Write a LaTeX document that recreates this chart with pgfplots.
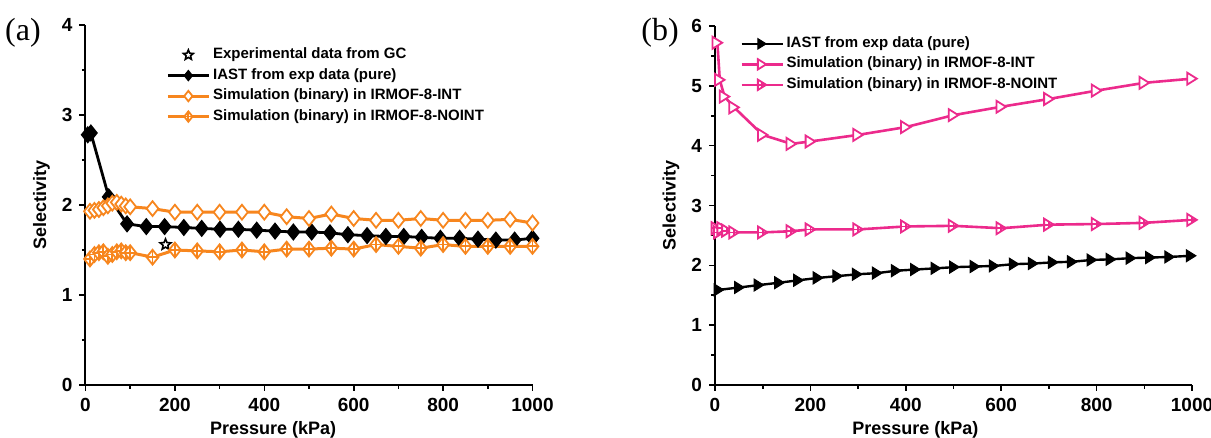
\documentclass[border=0pt]{standalone}
\usepackage{fontspec}
\setmainfont{Liberation Sans}
\newfontfamily\panelfont{Liberation Serif}
\usepackage{pgfplots}
\pgfplotsset{compat=1.18}

\definecolor{simorange}{HTML}{F7861E}
\definecolor{simpink}{HTML}{EC2A8C}

% Origin-like symbols
\pgfdeclareplotmark{sqdiamond}{%
  \pgfpathmoveto{\pgfqpoint{0pt}{\pgfplotmarksize}}%
  \pgfpathlineto{\pgfpoint{0.8\pgfplotmarksize}{0pt}}%
  \pgfpathlineto{\pgfqpoint{0pt}{-\pgfplotmarksize}}%
  \pgfpathlineto{\pgfpoint{-0.8\pgfplotmarksize}{0pt}}%
  \pgfpathclose
  \pgfusepathqfillstroke}
\pgfdeclareplotmark{sqdiamondplus}{%
  \pgfpathmoveto{\pgfqpoint{0pt}{\pgfplotmarksize}}%
  \pgfpathlineto{\pgfpoint{0.8\pgfplotmarksize}{0pt}}%
  \pgfpathlineto{\pgfqpoint{0pt}{-\pgfplotmarksize}}%
  \pgfpathlineto{\pgfpoint{-0.8\pgfplotmarksize}{0pt}}%
  \pgfpathclose
  \pgfusepathqfillstroke
  \pgfpathmoveto{\pgfqpoint{0pt}{\pgfplotmarksize}}%
  \pgfpathlineto{\pgfqpoint{0pt}{-\pgfplotmarksize}}%
  \pgfpathmoveto{\pgfpoint{-0.8\pgfplotmarksize}{0pt}}%
  \pgfpathlineto{\pgfpoint{0.8\pgfplotmarksize}{0pt}}%
  \pgfusepathqstroke}
\pgfdeclareplotmark{rtri}{%
  \pgfpathmoveto{\pgfpoint{0.8\pgfplotmarksize}{0pt}}%
  \pgfpathlineto{\pgfpoint{-0.8\pgfplotmarksize}{\pgfplotmarksize}}%
  \pgfpathlineto{\pgfpoint{-0.8\pgfplotmarksize}{-\pgfplotmarksize}}%
  \pgfpathclose
  \pgfusepathqfillstroke}
\pgfdeclareplotmark{rtriplus}{%
  \pgfpathmoveto{\pgfpoint{0.8\pgfplotmarksize}{0pt}}%
  \pgfpathlineto{\pgfpoint{-0.8\pgfplotmarksize}{\pgfplotmarksize}}%
  \pgfpathlineto{\pgfpoint{-0.8\pgfplotmarksize}{-\pgfplotmarksize}}%
  \pgfpathclose
  \pgfusepathqfillstroke
  \pgfpathmoveto{\pgfpoint{0pt}{0.5\pgfplotmarksize}}%
  \pgfpathlineto{\pgfpoint{0pt}{-0.5\pgfplotmarksize}}%
  \pgfpathmoveto{\pgfpoint{-0.8\pgfplotmarksize}{0pt}}%
  \pgfpathlineto{\pgfpoint{0.8\pgfplotmarksize}{0pt}}%
  \pgfusepathqstroke}
\pgfdeclareplotmark{ostar}{%
  \pgfpathmoveto{\pgfpointpolar{90}{\pgfplotmarksize}}%
  \pgfpathlineto{\pgfpointpolar{126}{0.45\pgfplotmarksize}}%
  \pgfpathlineto{\pgfpointpolar{162}{\pgfplotmarksize}}%
  \pgfpathlineto{\pgfpointpolar{198}{0.45\pgfplotmarksize}}%
  \pgfpathlineto{\pgfpointpolar{234}{\pgfplotmarksize}}%
  \pgfpathlineto{\pgfpointpolar{270}{0.45\pgfplotmarksize}}%
  \pgfpathlineto{\pgfpointpolar{306}{\pgfplotmarksize}}%
  \pgfpathlineto{\pgfpointpolar{342}{0.45\pgfplotmarksize}}%
  \pgfpathlineto{\pgfpointpolar{18}{\pgfplotmarksize}}%
  \pgfpathlineto{\pgfpointpolar{54}{0.45\pgfplotmarksize}}%
  \pgfpathclose
  \pgfusepathqfillstroke}

\pgfplotsset{
  legend image code/.code={\draw[mark repeat=2,mark phase=2,#1,mark size=2.6pt]
    plot coordinates {(0pt,0pt)(10.25pt,0pt)(20.5pt,0pt)};},
  panel/.style={
    scale only axis,
    axis lines*=left,
    axis line style={line width=1pt, black},
    tick align=outside,
    major tick length=3pt,
    minor tick length=1.8pt,
    every tick/.style={black, line width=0.8pt},
    minor x tick num=1,
    minor y tick num=1,
    xmin=0, xmax=1000,
    xtick={0,200,...,1000},
    ymin=0,
    xticklabel={\pgfmathprintnumber[assume math mode=true,1000 sep={}]{\tick}},
    yticklabel={\pgfmathprintnumber[assume math mode=true]{\tick}},
    every tick label/.append style={font=\bfseries\fontsize{9.5}{10}\selectfont},
    xlabel={Pressure (kPa)},
    ylabel={Selectivity},
    every axis x label/.style={at={([yshift=-22.5pt]axis description cs:0.42,0)}, anchor=center,
      font=\bfseries\fontsize{9}{10}\selectfont},
    every axis y label/.style={at={([xshift=-22pt]axis description cs:0,0.5)}, anchor=center, rotate=90,
      font=\bfseries\fontsize{9}{10}\selectfont},
    legend cell align=left,
    legend style={draw=none, fill=none, anchor=north west, inner sep=0pt,
      font=\bfseries\fontsize{7.5}{9}\selectfont,
      nodes={inner sep=1.375pt, text height=5.5pt, text depth=2pt}},
  },
}

\begin{document}
\begin{tikzpicture}
\useasboundingbox (0,0) rectangle (605.5pt,219pt);

% ---- panel (a)
\begin{axis}[panel, at={(42.75pt,26.5pt)}, anchor=south west,
  width=223.5pt, height=180pt, ymax=4, ytick={0,1,2,3,4},
  legend style={at={(axis description cs:0.18,0.946)}}]
\addplot[only marks, mark=ostar, mark size=2.8pt, mark options={line width=0.8pt, fill=white}]
  coordinates {(179,1.56)};
\addlegendentry{Experimental data from GC}
\addplot[black, line width=1.4pt, mark=sqdiamond, mark size=4pt, mark options={fill=black, line width=0.5pt}]
  coordinates {(5,2.78)(12,2.80)(52,2.09)(93,1.79)(136,1.76)(177,1.76)(220,1.75)(260,1.74)
  (301,1.73)(342,1.73)(383,1.72)(424,1.71)(465,1.70)(506,1.70)(547,1.69)(587,1.67)(630,1.66)
  (672,1.65)(712,1.65)(752,1.64)(794,1.63)(837,1.63)(878,1.62)(918,1.61)(960,1.61)(1000,1.63)};
\addlegendentry{IAST from exp data (pure)}
\addplot[simorange, line width=1.5pt, mark=sqdiamond, mark size=3.7pt, mark options={fill=white, line width=0.9pt}]
  coordinates {(10,1.93)(20,1.94)(30,1.95)(40,1.97)(50,1.99)(60,2.02)(70,2.03)(80,2.01)(90,1.99)
  (100,1.98)(150,1.96)(200,1.92)(250,1.92)(300,1.92)(350,1.92)(400,1.92)(450,1.87)(500,1.85)
  (550,1.90)(600,1.85)(650,1.83)(700,1.83)(750,1.85)(800,1.83)(850,1.83)(900,1.83)(950,1.84)(1000,1.80)};
\addlegendentry{Simulation (binary) in IRMOF-8-INT}
\addplot[simorange, line width=1.5pt, mark=sqdiamondplus, mark size=3.7pt, mark options={fill=white, line width=0.9pt}]
  coordinates {(10,1.40)(20,1.45)(30,1.47)(40,1.48)(50,1.43)(60,1.45)(70,1.48)(80,1.49)(90,1.47)
  (100,1.47)(150,1.42)(200,1.50)(250,1.49)(300,1.48)(350,1.50)(400,1.48)(450,1.51)(500,1.51)
  (550,1.52)(600,1.51)(650,1.56)(700,1.54)(750,1.52)(800,1.56)(850,1.54)(900,1.54)(950,1.54)(1000,1.54)};
\addlegendentry{Simulation (binary) in IRMOF-8-NOINT}
\end{axis}
\node[font=\panelfont\fontsize{16}{16}\selectfont] at (11.5pt,202.5pt) {(a)};

% ---- panel (b)
\begin{axis}[panel, at={(357.5pt,26.5pt)}, anchor=south west,
  width=238.5pt, height=179.5pt, ymax=6, ytick={0,1,...,6},
  legend style={at={(axis description cs:0.052,0.98)}}]
\addplot[black, line width=1.2pt, mark=rtri, mark size=3pt, mark options={fill=black, line width=0.5pt}]
  coordinates {(8,1.59)(51,1.63)(92,1.67)(135,1.71)(175,1.75)(216,1.79)(257,1.82)(298,1.85)
  (340,1.87)(380,1.91)(420,1.93)(463,1.95)(502,1.97)(545,1.98)(585,1.99)(627,2.02)(667,2.03)
  (709,2.05)(749,2.06)(790,2.09)(830,2.10)(872,2.12)(913,2.13)(953,2.14)(998,2.16)};
\addlegendentry{IAST from exp data (pure)}
\addplot[simpink, line width=1.3pt, mark=rtri, mark size=3pt, mark options={fill=white, line width=0.9pt}]
  coordinates {(5,5.72)(10,5.10)(20,4.82)(40,4.64)(100,4.18)(160,4.03)(200,4.07)(300,4.18)
  (400,4.31)(500,4.51)(600,4.65)(700,4.78)(800,4.92)(900,5.05)(1000,5.12)};
\addlegendentry{Simulation (binary) in IRMOF-8-INT}
\addplot[simpink, line width=1.3pt, mark=rtriplus, mark size=3pt, mark options={fill=white, line width=0.9pt}]
  coordinates {(3,2.62)(8,2.55)(15,2.62)(25,2.58)(40,2.55)(100,2.55)(160,2.57)(200,2.60)
  (300,2.60)(400,2.65)(500,2.66)(600,2.62)(700,2.68)(800,2.69)(900,2.71)(1000,2.76)};
\addlegendentry{Simulation (binary) in IRMOF-8-NOINT}
\end{axis}
\node[font=\panelfont\fontsize{16}{16}\selectfont] at (330pt,202.5pt) {(b)};
\end{tikzpicture}
\end{document}
